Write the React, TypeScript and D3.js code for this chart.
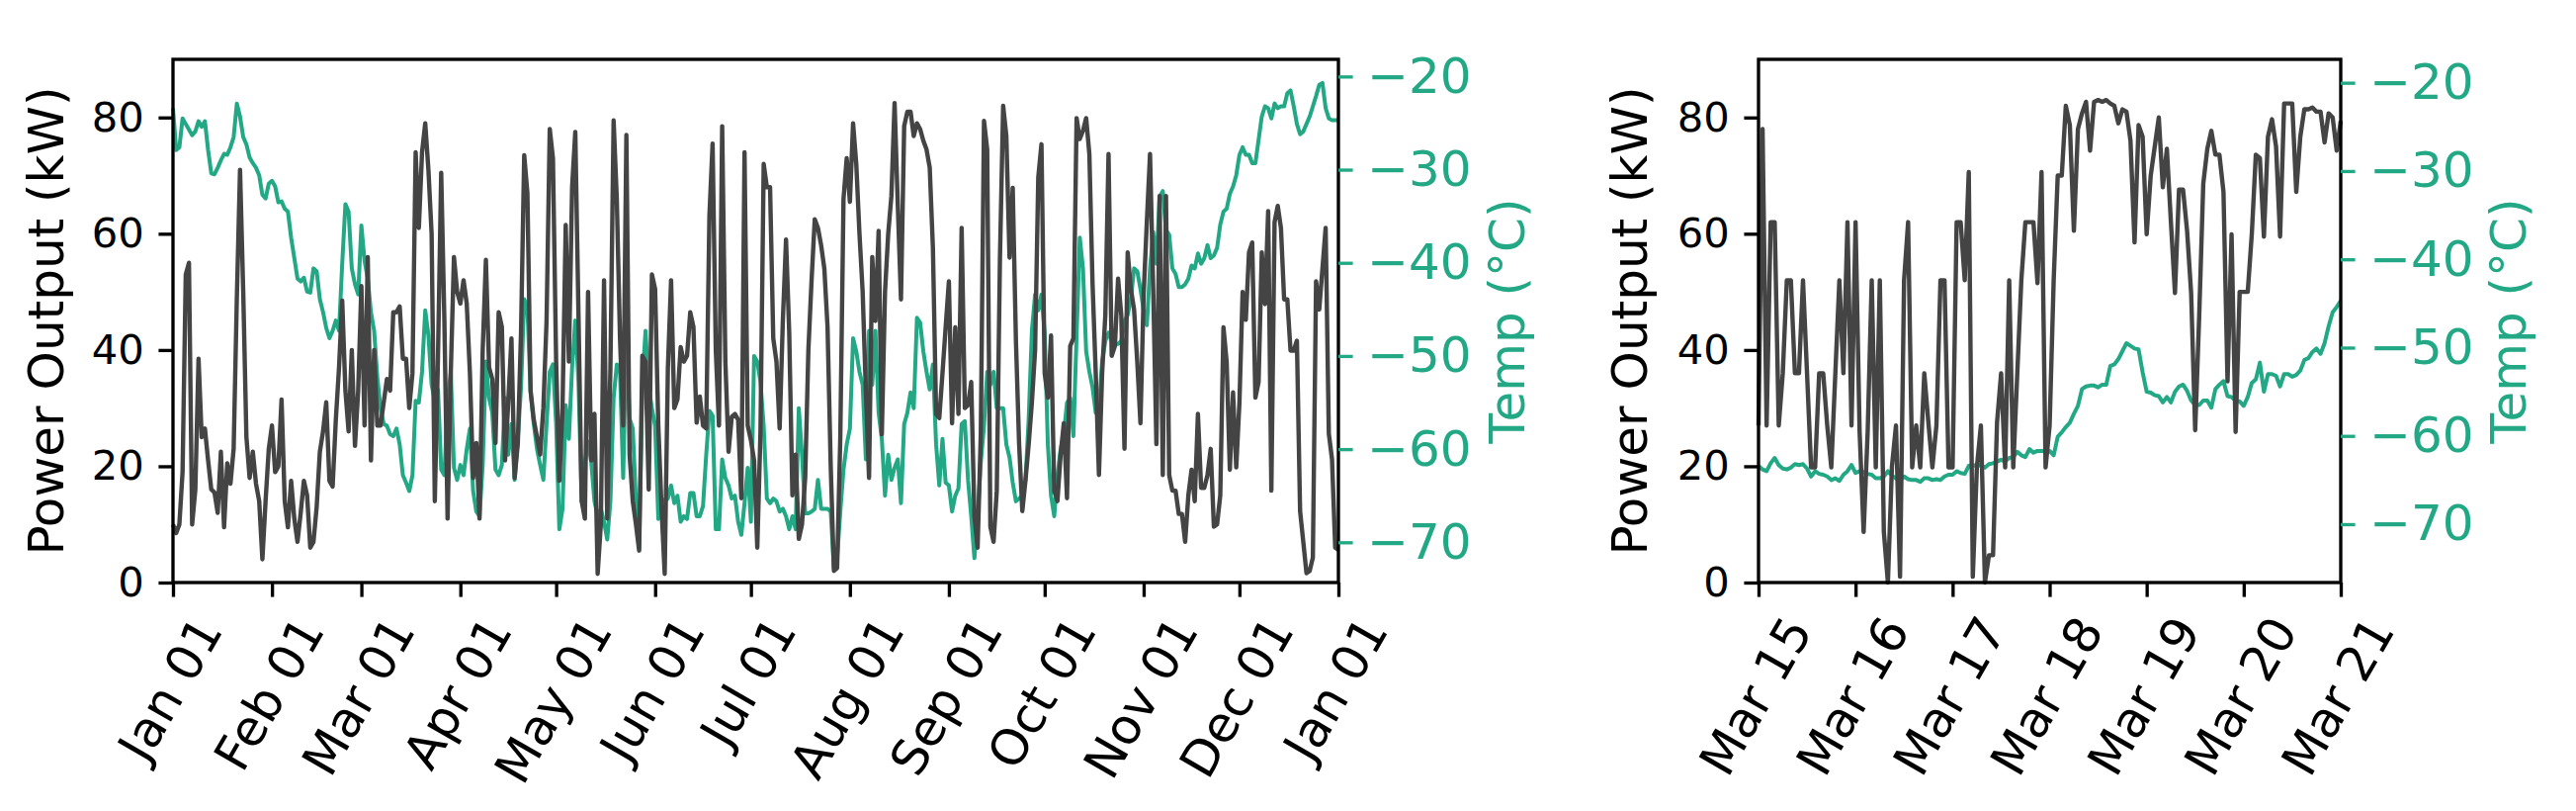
import * as React from "react";
import * as d3 from "d3";
import { useEffect, useRef } from "react";

// daily values, Jan 01 2021 .. Jan 01 2022 (366 points)
const powerDaily = [
  10, 8.5, 10, 19, 53, 55, 10, 16, 38.5, 25, 26.5, 21, 16, 15.5, 12, 22.5, 9.5, 20.5, 17, 23,
  49, 71, 50, 25, 18, 22.5, 17, 14, 4, 14, 23, 27, 19, 20, 31.5, 14, 9.5, 17.5, 11, 7,
  12, 17.5, 15, 6, 7, 13, 22.5, 26, 31, 17.5, 16.5, 28, 37, 48.5, 33, 26, 40, 23.5, 33,
  51, 27, 56, 21, 40, 27, 27, 31, 35, 33,
  46.5, 46.5, 47.5, 38.5, 38.5, 30, 36, 74, 61, 74,
  79, 71, 60, 14, 39, 70.5, 45, 11, 36, 56,
  50, 48, 52, 48, 36, 18, 24, 11, 40, 55.5,
  37, 35, 24, 46.5, 44, 21, 31, 42, 18, 24,
  43, 73.5, 67, 33, 28, 25, 22, 30, 45, 78,
  73, 38, 17.5, 30, 61.5, 38, 68, 77.5, 46, 14,
  11, 50, 21, 29, 1.5, 10, 52, 11, 37, 79.5,
  66, 42, 27, 77, 22, 14, 10, 5.5, 39, 38,
  16, 53, 50.5, 27, 13, 1.5, 37, 52, 30, 31.5,
  40.5, 38, 39, 46.5, 44, 27.5, 32, 27, 26.5, 63,
  75.5, 40, 27, 78.5, 38, 22.5, 28.5, 29, 28, 14.5,
  74, 27, 24.5, 21, 6, 26, 72, 68, 68, 42,
  38, 26.5, 45, 59, 43, 15, 22, 7.5, 10, 18,
  40, 52, 62.5, 61, 58, 54, 44, 20, 2, 2.5,
  25, 66, 73, 65.5, 79, 72, 60, 50, 33, 18,
  56, 45, 60.5, 25.5, 50, 60,
  66.5, 82.5, 65, 48.7, 78.5, 81, 81, 76.8, 79, 78,
  76, 74.5, 71.4, 57.6, 29, 28.3, 36, 44, 51.8, 27.4,
  43.9, 29, 61, 30, 30.5, 34.5, 11.4, 6, 25.6, 79.4,
  74.5, 9.6, 7, 15.8, 55.9, 82, 76.8, 55.9, 67.9, 41.6,
  23.8, 12.3, 17.6, 23.8, 31, 39.9, 69.7, 75.4, 36, 31.8,
  42.5, 15.8, 14, 22, 27.4, 14.5, 40.7, 42, 79.9, 76.3,
  77.7, 79.9, 73.7, 51.4, 36, 18.5, 36, 46, 73.7, 39,
  40.7, 52.3, 46, 23, 56.8, 50.5, 47, 38, 27.4, 49.6,
  62, 73.7, 50.5, 23.8, 66.5, 18.5, 66.5, 18.5, 15.8, 15.8,
  11.8, 11.8, 7, 15, 19.4, 14, 29, 16.3, 16.3, 18.5,
  23, 9.6, 10, 15, 43.9, 38, 19.4, 32.7, 19.8, 31,
  50, 45.2, 56.8, 58.5, 31.8, 34.5, 56.8, 47.9, 63.9, 15.8,
  62, 64.8, 61, 48.7, 48.7, 39.9, 39.9, 41.6, 12.3, 7,
  1.6, 2, 4.3, 51.8, 47, 54, 61, 25.6, 21.2, 6,
  5.6,
];

const tempDaily = [
  -23.4, -27.9, -27.6, -24.5, -25.1, -25.7, -26.3, -25.9, -24.8, -25.4,
  -24.8, -27.9, -30.4, -30.5, -29.8, -29.0, -28.3, -28.4, -27.6, -26.5,
  -22.9, -24.3, -26.5, -27.3, -28.7, -29.3, -29.8, -30.6, -32.7, -33.1,
  -31.5, -31.2, -31.8, -33.5, -33.4, -34.2, -34.5, -37.3, -39.5, -41.7,
  -42.0, -41.6, -43.1, -43.2, -40.6, -40.9, -43.9, -45.3, -47.0, -48.1,
  -47.3, -46.2, -47.3, -40.1, -33.7, -34.5, -40.6, -42.3, -43.4,
  -36.0, -39.8, -41.7, -45.3, -47.3, -52.3, -55.6, -57.3, -57.5, -58.4,
  -58.6, -57.8, -59.5, -62.8, -63.6, -64.5, -62.8, -54.8, -55.0, -51.7,
  -45.1, -47.8, -53.1, -54.8, -53.6, -62.2, -62.8, -54.8, -51.7, -62.0,
  -63.3, -61.7, -62.8, -60.0, -57.8, -64.5, -66.7, -67.2, -61.7, -50.6,
  -54.5, -56.1, -62.2, -62.8, -61.7, -54.5, -60.6, -57.3, -63.3, -58.9,
  -53.4, -43.9, -44.8, -53.9, -57.3, -60.0, -61.7, -63.3, -57.3, -51.7,
  -50.9, -57.3, -68.6, -66.4, -55.3, -58.9, -51.2, -46.2, -52.8, -65.6,
  -61.4, -59.2, -61.4, -65.6, -67.2, -66.4, -67.8, -69.7, -65.6, -54.5,
  -50.9, -51.7, -63.1, -47.5, -56.7, -57.8, -65.6, -70.6, -52.8, -47.3,
  -53.4, -55.6, -57.5, -67.5, -65.3, -65.6, -65.3, -63.9, -65.8, -65.0,
  -67.8, -67.2, -67.5, -64.7, -64.7, -67.2, -67.2, -66.1, -60.6, -55.9,
  -56.4, -68.6, -68.6, -61.1, -63.1, -63.9, -65.3, -65.0, -67.8, -69.2,
  -65.8, -62.0, -67.8, -50.0, -50.6, -52.8, -57.5, -65.3, -65.8, -65.3,
  -65.6, -66.7, -66.4, -67.2, -68.6, -67.2, -68.6, -55.6, -60.6, -66.9,
  -66.9, -66.7, -66.4, -63.3, -66.4, -66.4, -66.4, -66.7, -72.8, -71.7,
  -66.7, -62.2, -59.5, -57.8, -48.1, -49.5, -51.7, -53.1, -61.1, -47.3,
  -53.1, -47.3, -56.1, -58.9, -65.0, -60.6,
  -63.3, -62.0, -61.1, -65.8, -57.3, -56.1, -53.9, -55.6, -45.9, -46.4,
  -49.5, -51.7, -53.6, -50.9, -59.5, -63.9, -58.9, -63.6, -63.9, -66.7,
  -65.0, -64.2, -57.3, -57.0, -63.3, -67.2, -71.7, -67.2, -61.4, -57.5,
  -51.7, -53.1, -51.7, -55.6, -55.6, -55.6, -59.5, -60.9, -63.6, -65.6,
  -65.3, -65.0, -63.3, -56.7, -47.3, -43.4, -45.1, -43.4, -47.5, -59.5,
  -65.0, -67.2, -62.8, -60.0, -58.4, -55.0, -54.5, -58.6, -47.8, -37.3,
  -40.6, -49.5, -51.7, -53.4, -56.1, -55.6, -50.6, -48.4, -47.5, -48.4,
  -48.7, -48.7, -48.4, -46.2, -45.6, -43.9, -40.6, -40.9, -42.8, -45.1,
  -46.7, -40.6, -36.7, -40.1, -32.9, -32.3, -36.5, -37.0, -40.6, -41.2,
  -42.6, -42.6, -42.3, -41.7, -40.3, -40.6, -39.0, -40.1, -39.5, -38.1,
  -39.5, -39.2, -38.4, -35.9, -34.5, -34.2, -32.6, -31.8, -30.6, -28.4,
  -27.6, -28.4, -28.4, -29.3, -29.3, -26.8, -24.3, -23.2, -23.4, -24.5,
  -22.9, -23.4, -23.2, -23.2, -21.8, -21.5, -23.2, -25.1, -26.2, -25.9,
  -25.1, -24.3, -23.2, -22.1, -20.9, -20.7, -23.4, -24.5, -24.7, -24.7,
  -24.7,
];

// hourly values, Mar 15 00:00 .. Mar 21 00:00 (145 points)
const powerHourly = [
  27, 78, 27, 62, 62, 27, 36, 52, 52, 36,
  36, 52, 36, 19.8, 19.8, 36, 36, 27, 19.8, 36,
  52, 36, 62, 27, 62, 26, 8.7, 26, 52, 19.8,
  52, 8.7, 0, 20, 27, 1, 52, 62, 19.8, 27,
  19.8, 36, 27.6, 19.8, 27, 52, 52, 19.8, 19.8, 62,
  62, 52, 70.6, 1, 19.8, 27, 0, 4.7, 4.7, 27.6,
  36, 19.8, 52, 19.8, 36, 52, 62, 62, 62, 51.5,
  70.6, 19.8, 27, 52, 70, 70, 82, 78.7, 60.5, 78,
  80.7, 82.7, 74.3, 82.7, 83, 82.7, 83, 82.4, 82, 79,
  81.4, 81, 76, 58.5, 78.7, 76.7, 59.9, 70, 75, 80,
  68, 74.6, 62, 49.8, 67.6, 67.6, 60.5, 49.8, 26.2, 46,
  68.6, 74.6, 77.7, 73.6, 73.6, 67.2, 34.6, 59.9, 25.9, 50,
  50, 50, 59.9, 73.6, 73, 59.5, 76.7, 79.7, 75, 59.5,
  82.4, 82.4, 82.4, 67.2, 76.7, 81.4, 81.4, 81.7, 81, 81,
  75.7, 80.7, 80, 74.3, 79.4,
];

const tempHourly = [
  -63.4, -63.8, -64.0, -63.1, -62.5, -63.3, -63.7, -63.8, -63.6, -63.2,
  -63.3, -63.2, -63.7, -64.6, -64.0, -64.3, -64.4, -64.6, -65.0, -64.8,
  -65.1, -64.4, -64.0, -63.3, -64.2, -64.0, -64.1, -64.3, -64.4, -64.8,
  -64.8, -64.6, -64.0, -64.5, -64.8, -65.0, -64.6, -64.9, -65.0, -65.0,
  -65.2, -64.8, -64.8, -65.0, -64.9, -65.0, -64.6, -64.4, -64.4, -64.0,
  -64.2, -64.3, -63.4, -63.3, -63.4, -63.3, -63.6, -63.2, -63.1, -62.9,
  -62.7, -62.9, -62.5, -62.4, -61.8, -62.2, -62.4, -61.5, -61.9, -61.7,
  -61.7, -61.8, -61.7, -62.2, -60.1, -59.6, -59.0, -58.5, -57.5,
  -56.6, -54.7, -54.4, -54.3, -54.3, -54.5, -54.2, -54.2, -52.1, -51.9,
  -51.3, -50.4, -49.5, -49.8, -50.1, -50.2, -52.8, -55.0, -55.1, -55.4,
  -55.5, -56.2, -55.6, -56.2, -55.0, -54.4, -54.2, -54.9, -56.0, -56.5,
  -56.5, -56.0, -56.0, -56.8, -54.7, -54.2, -53.8, -55.5, -55.6, -56.0,
  -56.1, -56.6, -55.6, -54.0, -53.6, -51.7, -55.0, -53.0, -53.0, -53.2,
  -54.4, -53.0, -53.0, -53.3, -53.1, -52.6, -51.4, -51.2, -50.5, -50.1,
  -50.7, -49.5, -47.6, -46.0, -45.4, -44.7,
];

const powerTicks = [0, 20, 40, 60, 80];
const tempTicks = [-70, -60, -50, -40, -30, -20];

const W = 2606;
const H = 820;
const TOP = 60;
const BOTTOM = 589;
const PT = 300 / 72;
const FONT = "DejaVu Sans";
const GRAY = "#444444";
const GREEN = "#22a884";
const TICK = 3.5 * PT;
const PAD = 3.5 * PT;
const SPINE = 0.8 * PT;
const FS = 10 * PT;
const FS_X = 12 * PT;
const FS_BIG = 12 * PT;
const ROT = 60;

const panels = [
  {
    left: 175, right: 1354,
    start: new Date(Date.UTC(2021, 0, 1)), end: new Date(Date.UTC(2022, 0, 1)),
    step: d3.utcDay, xTicks: d3.utcMonth.every(1),
    power: powerDaily, temp: tempDaily, tempDomain: [-74.32, -18.16],
    labelX: 64, tempLabelX: 1542,
  },
  {
    left: 1779, right: 2368,
    start: new Date(Date.UTC(2021, 2, 15)), end: new Date(Date.UTC(2021, 2, 21)),
    step: d3.utcHour, xTicks: d3.utcDay.every(1),
    power: powerHourly, temp: tempHourly, tempDomain: [-76.61, -17.35],
    labelX: 1666, tempLabelX: 2555,
  },
];

function drawPanel(svg: any, p: any) {
  const x = d3.scaleUtc().domain([p.start, p.end]).range([p.left, p.right]);
  const y = d3.scaleLinear().domain([0, 90]).range([BOTTOM, TOP]);
  const yT = d3.scaleLinear().domain(p.tempDomain).range([BOTTOM, TOP]);
  const at = (i: number) => x(p.step.offset(p.start, i));

  const tempLine = d3.line<number>().x((_, i) => at(i)).y((d) => yT(d));
  const powerLine = d3.line<number>().x((_, i) => at(i)).y((d) => y(d));

  svg.append("path").attr("d", tempLine(p.temp)).attr("fill", "none")
    .attr("stroke", GREEN).attr("stroke-width", 4).attr("stroke-linejoin", "round");
  svg.append("path").attr("d", powerLine(p.power)).attr("fill", "none")
    .attr("stroke", GRAY).attr("stroke-width", 4.4).attr("stroke-linejoin", "round");

  // frame
  svg.append("rect").attr("x", p.left).attr("y", TOP)
    .attr("width", p.right - p.left).attr("height", BOTTOM - TOP)
    .attr("fill", "none").attr("stroke", "#000").attr("stroke-width", SPINE);

  const style = (g: any, color: string) => {
    g.select(".domain").remove();
    g.attr("font-family", FONT);
    g.selectAll(".tick line").attr("stroke", color).attr("stroke-width", SPINE);
    g.selectAll(".tick text").attr("fill", color);
  };

  const gl = svg.append("g").attr("transform", `translate(${p.left},0)`)
    .call(d3.axisLeft(y).tickValues(powerTicks).tickSize(TICK).tickPadding(PAD).tickSizeOuter(0));
  style(gl, "#000");
  gl.attr("font-size", FS);

  const gr = svg.append("g").attr("transform", `translate(${p.right},0)`)
    .call(d3.axisRight(yT).tickValues(tempTicks).tickSize(TICK).tickPadding(PAD).tickSizeOuter(0)
      .tickFormat((d: any) => (d < 0 ? "\u2212" : "") + Math.abs(d)));
  style(gr, GREEN);
  gr.attr("font-size", FS_BIG);

  const gb = svg.append("g").attr("transform", `translate(0,${BOTTOM})`)
    .call(d3.axisBottom(x).tickValues(x.ticks(p.xTicks)).tickSize(TICK).tickPadding(PAD)
      .tickSizeOuter(0).tickFormat(d3.utcFormat("%b %d") as any));
  style(gb, "#000");
  gb.attr("font-size", FS_X);
  const a = (ROT * Math.PI) / 180;
  gb.selectAll(".tick text").each(function (this: SVGTextElement) {
    const w = this.getComputedTextLength();
    const bh = w * Math.sin(a) + FS_X * 0.99 * Math.cos(a);
    d3.select(this).attr("x", 0).attr("y", 0).attr("dy", "0.27em")
      .attr("text-anchor", "middle")
      .attr("transform", `translate(0,${TICK + PAD + bh / 2}) rotate(${-ROT})`);
  });

  const cy = (TOP + BOTTOM) / 2;
  svg.append("text").attr("transform", `translate(${p.labelX},${cy}) rotate(-90)`)
    .attr("text-anchor", "middle").attr("font-family", FONT).attr("font-size", FS_BIG)
    .attr("fill", "#000").text("Power Output (kW)");
  svg.append("text").attr("transform", `translate(${p.tempLabelX},${cy}) rotate(-90)`)
    .attr("text-anchor", "middle").attr("font-family", FONT).attr("font-size", FS_BIG)
    .attr("fill", GREEN).text("Temp (°C)");
}

const App: React.FunctionComponent = () => {
  const svgRef = useRef<SVGSVGElement>(null);

  useEffect(() => {
    const svg = d3.select(svgRef.current);
    svg.selectAll("*").remove();
    svg.append("rect").attr("width", W).attr("height", H).attr("fill", "#fff");
    panels.forEach((p) => drawPanel(svg, p));
  }, []);

  return (
    <svg
      ref={svgRef}
      width={W}
      height={H}
      style={{ position: "absolute", left: 0, top: 0, display: "block" }}
    ></svg>
  );
};

export default App;
